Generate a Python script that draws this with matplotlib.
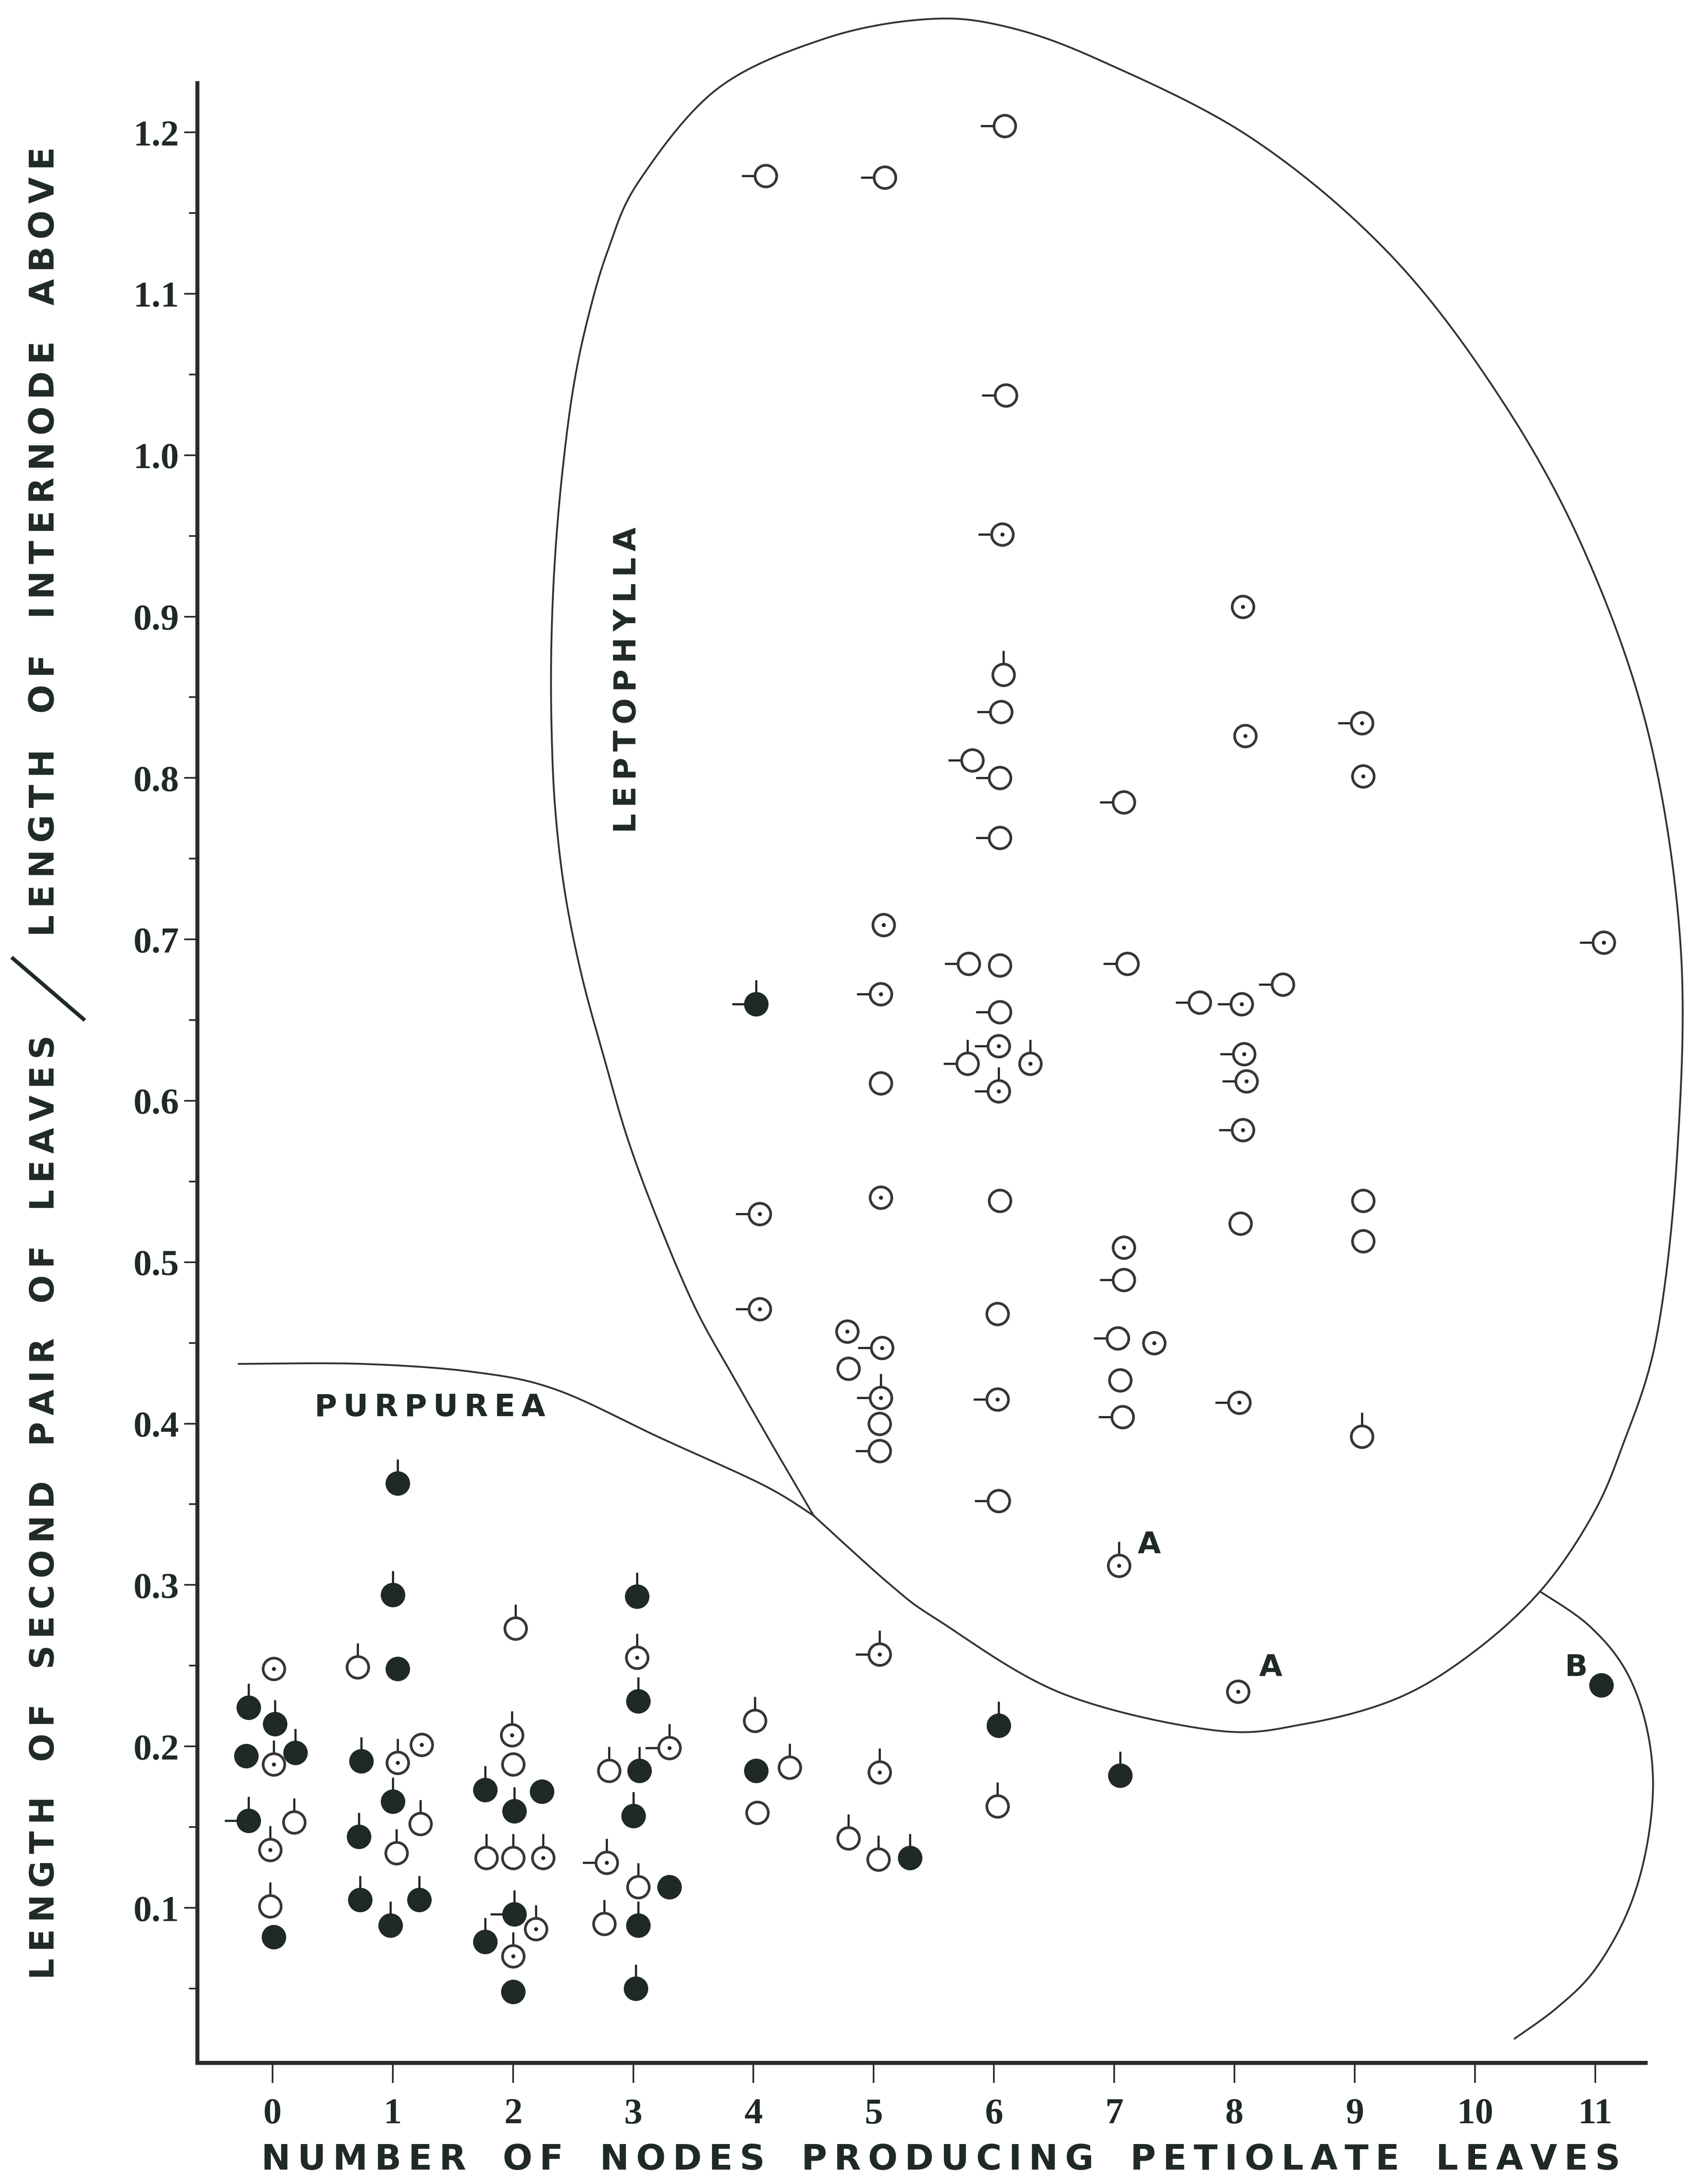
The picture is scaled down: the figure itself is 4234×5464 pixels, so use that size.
import numpy as np
import matplotlib
matplotlib.use('Agg')
import matplotlib.pyplot as plt
from matplotlib.path import Path

INK = '#1f2a24'
LINE = '#333333'

# ---- plotted points (x = nodes, spread sideways as in the original drawing)
nodes = [-0.20, 0.02, -0.22, 0.01, 0.19, -0.20, 0.18, -0.02, -0.02, 0.01, 0.01,
         1.04, 1.00, 0.71, 1.04, 0.74, 1.04, 1.24, 1.00, 1.23, 0.72, 1.03, 0.73, 1.22, 0.98,
         2.02, 1.99, 2.00, 1.77, 2.24, 2.01, 1.78, 2.00, 2.25, 2.01, 2.19, 1.77, 2.00, 2.00,
         3.03, 3.03, 3.04, 3.30, 2.80, 3.05, 3.00, 2.78, 3.04, 3.30, 2.76, 3.04, 3.02,
         4.01, 4.02, 4.30, 4.03,
         5.05, 5.05, 4.79, 5.04, 5.30,
         6.04, 6.03, 7.05,
         8.03, 11.05,
         6.09, 4.10, 5.09, 6.10, 6.07, 8.07, 6.08, 6.06, 8.09, 9.06, 9.07, 5.82, 6.05, 7.08, 6.05,
         5.08, 5.79, 6.05, 7.11, 11.07, 4.02, 5.06, 6.05, 7.71, 8.06, 8.40, 6.04, 5.78, 6.30, 6.04,
         5.06, 8.08, 8.10, 8.07,
         4.05, 5.06, 6.05, 8.05, 9.07, 9.07, 7.08, 7.08, 4.05, 6.03, 4.78, 5.07, 4.79, 7.03, 7.33,
         5.06, 7.05, 6.03, 5.05, 7.07, 8.04, 9.06, 5.05, 6.04, 7.04]

ratio = [0.224, 0.214, 0.194, 0.189, 0.196, 0.154, 0.153, 0.136, 0.101, 0.082, 0.248,
         0.363, 0.294, 0.249, 0.248, 0.191, 0.190, 0.201, 0.166, 0.152, 0.144, 0.134, 0.105, 0.105, 0.089,
         0.273, 0.207, 0.189, 0.173, 0.172, 0.160, 0.131, 0.131, 0.131, 0.096, 0.087, 0.079, 0.070, 0.048,
         0.293, 0.255, 0.228, 0.199, 0.185, 0.185, 0.157, 0.128, 0.113, 0.113, 0.090, 0.089, 0.050,
         0.216, 0.185, 0.187, 0.159,
         0.257, 0.184, 0.143, 0.130, 0.131,
         0.213, 0.163, 0.182,
         0.234, 0.238,
         1.204, 1.173, 1.172, 1.037, 0.951, 0.906, 0.864, 0.841, 0.826, 0.834, 0.801, 0.811, 0.800, 0.785, 0.763,
         0.709, 0.685, 0.684, 0.685, 0.698, 0.660, 0.666, 0.655, 0.661, 0.660, 0.672, 0.634, 0.623, 0.623, 0.606,
         0.611, 0.629, 0.612, 0.582,
         0.530, 0.540, 0.538, 0.524, 0.538, 0.513, 0.509, 0.489, 0.471, 0.468, 0.457, 0.447, 0.434, 0.453, 0.450,
         0.416, 0.427, 0.415, 0.400, 0.404, 0.413, 0.392, 0.383, 0.352, 0.312]

# o = open circle, d = circle with dot, f = filled circle
glyph = (list('fffdffodofd') +
         list('ffoffddfofofff') +
         list('odofffoodfdfdf') +
         list('fdfdoffdofoff') +
         list('ofoo') +
         list('ddoof') +
         list('fof') +
         list('df') +
         list('ooooddoodddoooo') +
         list('dooodfdoodododd') +
         list('oddd') +
         list('ddoooodododdood') +
         list('dodoodoood'))

# tail stroke: u = up, l = left, ul = both, - = none
tail = ['u', 'u', '-', 'u', 'u', 'ul', 'u', 'u', 'u', '-', '-',
        'u', 'u', 'u', '-', 'u', 'u', '-', 'u', 'u', 'u', 'u', 'u', 'u', 'u',
        'u', 'u', '-', 'u', '-', 'u', 'u', 'u', 'u', 'ul', 'u', 'u', 'u', '-',
        'u', 'u', 'u', 'ul', 'u', 'u', 'u', 'ul', 'u', '-', 'u', 'u', 'u',
        'u', '-', 'u', '-',
        'ul', 'u', 'u', 'u', 'u',
        'u', 'u', 'u',
        '-', '-',
        'l', 'l', 'l', 'l', 'l', '-', 'u', 'l', '-', 'l', '-', 'l', 'l', 'l', 'l',
        '-', 'l', '-', 'l', 'l', 'ul', 'l', 'l', 'l', 'l', 'l', 'l', 'ul', 'u', 'ul',
        '-', 'l', 'l', 'l',
        'l', '-', '-', '-', '-', '-', '-', 'l', 'l', '-', '-', 'l', '-', 'l', '-',
        'ul', '-', 'l', '-', 'l', 'l', 'u', 'l', 'l', 'u']

# ---- group boundaries drawn on the chart
purpurea_x = [-0.28, 0.74, 1.67, 2.36, 3.23, 4.08, 4.50]
purpurea_y = [0.437, 0.437, 0.432, 0.421, 0.391, 0.362, 0.343]
lepto_x = [4.50, 4.17, 3.84, 3.52, 3.22, 2.96, 2.76, 2.57, 2.43, 2.35, 2.32, 2.32, 2.35, 2.41, 2.50,
           2.62, 2.79, 3.05, 3.70, 4.59, 5.42, 6.07, 6.87, 8.15, 9.31, 10.24, 10.93, 11.45, 11.71,
           11.68, 11.51, 11.22, 10.96, 10.54, 9.98, 9.36, 8.59, 7.83, 6.56, 5.54, 5.14, 4.50]
lepto_y = [0.343, 0.385, 0.428, 0.471, 0.523, 0.575, 0.626, 0.678, 0.730, 0.782, 0.834, 0.885, 0.937,
           0.989, 1.041, 1.084, 1.127, 1.170, 1.227, 1.258, 1.270, 1.266, 1.245, 1.196, 1.123, 1.032,
           0.937, 0.825, 0.695, 0.566, 0.454, 0.385, 0.341, 0.296, 0.258, 0.230, 0.214, 0.210, 0.233,
           0.278, 0.300, 0.343]
b_x = [10.54, 10.93, 11.23, 11.41, 11.48, 11.42, 11.26, 10.99, 10.68, 10.33]
b_y = [0.296, 0.276, 0.250, 0.217, 0.178, 0.135, 0.096, 0.061, 0.038, 0.019]

xticks = list(range(12))
yticks = [0.1, 0.2, 0.3, 0.4, 0.5, 0.6, 0.7, 0.8, 0.9, 1.0, 1.1, 1.2]


def smooth(xs, ys, n=24):
    # Catmull-Rom through the traced points
    P = np.column_stack([xs, ys]).astype(float)
    P = np.vstack([P[0], P, P[-1]])
    t = np.linspace(0, 1, n, endpoint=False)[:, None]
    out = []
    for i in range(1, len(P) - 2):
        p0, p1, p2, p3 = P[i - 1], P[i], P[i + 1], P[i + 2]
        out.append(0.5 * (2 * p1 + (p2 - p0) * t + (2 * p0 - 5 * p1 + 4 * p2 - p3) * t ** 2
                          + (3 * p1 - p0 - 3 * p2 + p3) * t ** 3))
    out.append(P[-2][None])
    c = np.vstack(out)
    return c[:, 0], c[:, 1]


def spaced(s, gap='   '):
    # letter-spaced caps: thin space between letters, wide gap between words
    return gap.join('\u2009'.join(w) for w in s.split())


fig = plt.figure(figsize=(4234 / 300, 5465 / 300), dpi=300)
ax = fig.add_axes([0.1166, 0.0555, 0.8561, 0.9062])
ax.set_xlim(-0.625, 11.42)
ax.set_ylim(0.004, 1.2304)

x = np.array(nodes)
y = np.array(ratio)
g = np.array(glyph)
tl = np.array(tail)

# tails: strokes leaving the circle upward / leftward
R_IN, R_OUT = 6.5, 14.5
up = Path([(0, R_IN), (0, R_OUT)])
left = Path([(-R_IN, 0), (-R_OUT, 0)])
m = np.isin(tl, ['u', 'ul'])
ax.plot(x[m], y[m], ls='none', marker=up, ms=2 * R_OUT, mew=1.3, mec=INK, zorder=2)
m = np.isin(tl, ['l', 'ul'])
ax.plot(x[m], y[m], ls='none', marker=left, ms=2 * R_OUT, mew=1.3, mec=INK, zorder=2)

m = g != 'f'
ax.plot(x[m], y[m], ls='none', marker='o', ms=13, mew=1.6, mec='#363636', mfc='white', zorder=3)
m = g == 'd'
ax.plot(x[m], y[m], ls='none', marker='o', ms=2.4, mew=0, mfc=INK, zorder=4)
m = g == 'f'
ax.plot(x[m], y[m], ls='none', marker='o', ms=13.5, mew=1.2, mec=INK, mfc=INK, zorder=3)

# boundaries
for cx, cy in ((purpurea_x, purpurea_y), (lepto_x, lepto_y), (b_x, b_y)):
    sx, sy = smooth(cx, cy)
    ax.plot(sx, sy, color=LINE, lw=1.1, clip_on=False, zorder=1)

lab = dict(family=['DejaVu Sans'], weight='bold', color=INK)
ax.text(1.31, 0.410, spaced('PURPUREA'), ha='center', va='center', fontsize=18.5, **lab)
ax.text(2.95, 0.861, spaced('LEPTOPHYLLA'), ha='center', va='center', rotation=90, fontsize=18.5, **lab)
ax.text(7.29, 0.325, 'A', ha='center', va='center', fontsize=18, **lab)
ax.text(8.30, 0.249, 'A', ha='center', va='center', fontsize=18, **lab)
ax.text(10.84, 0.249, 'B', ha='center', va='center', fontsize=18, **lab)

# axes
for s in ('top', 'right'):
    ax.spines[s].set_visible(False)
for s in ('left', 'bottom'):
    ax.spines[s].set_linewidth(2.4)
    ax.spines[s].set_color('#2a2a2a')
ax.set_xticks(xticks)
ax.set_xticklabels([str(v) for v in xticks])
ax.set_yticks(yticks)
ax.set_yticklabels(['%.1f' % v for v in yticks])
ax.set_yticks(np.arange(0.05, 1.2, 0.1), minor=True)
ax.tick_params(axis='x', length=12, width=1.0, pad=9, colors='#2a2a2a')
ax.tick_params(axis='y', which='major', length=8, width=1.0, pad=3, colors='#2a2a2a')
ax.tick_params(axis='y', which='minor', length=5, width=1.0, colors='#2a2a2a')
for t in ax.get_xticklabels() + ax.get_yticklabels():
    t.set_fontfamily(['Liberation Serif'])
    t.set_fontweight('bold')
    t.set_fontsize(22)
    t.set_color(INK)

fig.text(0.556, 0.0112, spaced('NUMBER OF NODES PRODUCING PETIOLATE LEAVES'),
         ha='center', va='center', fontsize=21, **lab)
fig.text(0.0263, 0.310, spaced('LENGTH OF SECOND PAIR OF LEAVES'),
         ha='center', va='center', rotation=90, fontsize=20, **lab)
fig.text(0.0263, 0.752, spaced('LENGTH OF INTERNODE ABOVE'),
         ha='center', va='center', rotation=90, fontsize=20.5, **lab)
fig.add_artist(plt.Line2D([0.0077, 0.0493], [0.5610, 0.5333], color=INK, lw=2.3))

fig.savefig('out.png', dpi=300, facecolor='white')
